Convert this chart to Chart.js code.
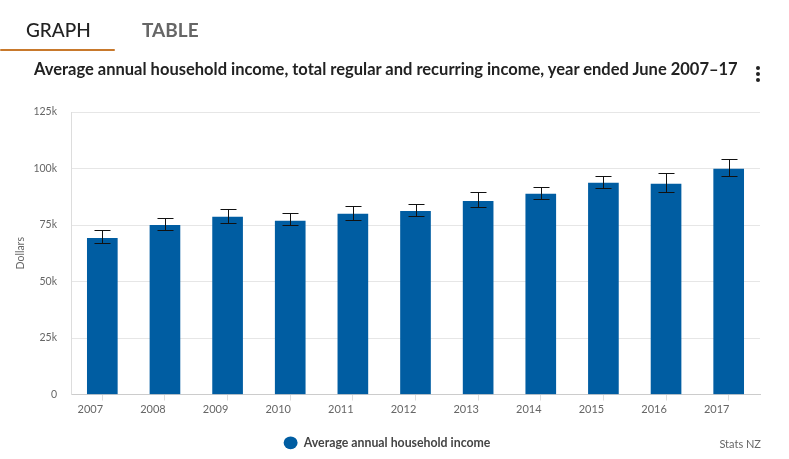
<!DOCTYPE html>
<html>
<head>
<meta charset="utf-8">
<script src="https://cdn.jsdelivr.net/npm/chart.js@4"></script>
<style>
  html, body { margin: 0; padding: 0; background: #fff; overflow: hidden; }
  body { width: 789px; height: 459px; position: relative; font-family: Lato, sans-serif; }
  #wrap { position: absolute; left: 0; top: 0; width: 789px; height: 459px; }
  .tab { position: absolute; top: 18px; font-size: 19px; font-weight: 500; line-height: 24px; }
  #tabGraph { left: 26px; color: #222; }
  #tabTable { left: 142px; color: #666; font-weight: 700; }
  #tabLine { position: absolute; left: 0; top: 49px; width: 115px; height: 2px; background: #c8792c; border-radius: 1px; }
  #title { position: absolute; left: 34px; top: 59px; font-size: 16.5px; font-weight: 700; color: #222; line-height: 20px; white-space: nowrap; }
  .dot { position: absolute; left: 756px; width: 4px; height: 4px; border-radius: 50%; background: #222; }
  #source { position: absolute; right: 28px; top: 437px; font-size: 11px; color: #666; line-height: 14px; }
</style>
</head>
<body>
<div id="wrap"><canvas id="chart" width="789" height="459"></canvas></div>
<div class="tab" id="tabGraph">GRAPH</div>
<div class="tab" id="tabTable">TABLE</div>
<div id="tabLine"></div>
<div id="title">Average annual household income, total regular and recurring income, year ended June 2007–17</div>
<div class="dot" style="top:66px"></div>
<div class="dot" style="top:72px"></div>
<div class="dot" style="top:78px"></div>
<div id="source">Stats NZ</div>
<script>
const years = ["2007", "2008", "2009", "2010", "2011", "2012", "2013", "2014", "2015", "2016", "2017"];
const incomeValues = [69100, 74900, 78500, 76700, 79800, 81100, 85500, 88700, 93500, 93100, 99700];
const errorLow = [67200, 72600, 76100, 74800, 77000, 79200, 82800, 86300, 91200, 89400, 96500];
const errorHigh = [72600, 78300, 81900, 80100, 83600, 84100, 89400, 91600, 96900, 97800, 104000];
const yTickLabels = ["0", "25k", "50k", "75k", "100k", "125k"];

// 오차 막대는 차트 스케일 기준으로 직접 그린다
const errorBarPlugin = {
    id: "errorBarPlugin",
    afterDatasetsDraw(chart) {
        const { ctx, scales } = chart;
        ctx.save();
        ctx.strokeStyle = "#111";
        ctx.lineWidth = 1;
        years.forEach((year, i) => {
            const x = Math.round(scales.x.getPixelForValue(i)) + 0.5;
            const top = Math.round(scales.y.getPixelForValue(errorHigh[i])) + 0.5;
            const bottom = Math.round(scales.y.getPixelForValue(errorLow[i])) + 0.5;
            ctx.beginPath();
            ctx.moveTo(x, top);
            ctx.lineTo(x, bottom);
            ctx.moveTo(x - 8, top);
            ctx.lineTo(x + 8, top);
            ctx.moveTo(x - 8, bottom);
            ctx.lineTo(x + 8, bottom);
            ctx.stroke();
        });
        ctx.restore();
    }
};

new Chart(document.getElementById("chart").getContext("2d"), {
    type: "bar",
    data: {
        labels: years,
        datasets: [{
            label: "Average annual household income",
            data: incomeValues,
            backgroundColor: "#005da2",
            borderWidth: 0,
            barThickness: 30
        }]
    },
    options: {
        responsive: false,
        animation: false,
        devicePixelRatio: 1,
        layout: { padding: { left: 14, right: 29, top: 112, bottom: 0 } },
        plugins: {
            tooltip: { enabled: false },
            legend: {
                position: "bottom",
                labels: {
                    usePointStyle: true,
                    pointStyle: "circle",
                    pointStyleWidth: 14,
                    boxHeight: 9,
                    padding: 14,
                    color: "#444",
                    font: { family: "Lato", size: 12.3, weight: "bold" }
                }
            }
        },
        scales: {
            x: {
                afterFit(scale) { scale.height += 5; },
                grid: { offset: false, drawOnChartArea: false, drawTicks: true, tickLength: 6, color: "#ddd" },
                border: { color: "#ccc" },
                ticks: { color: "#666", font: { family: "Lato", size: 11 }, labelOffset: -12, maxRotation: 0, padding: 2 }
            },
            y: {
                min: 0,
                max: 125000,
                afterFit(scale) { scale.width = 57; },
                grid: { color: "#e6e6e6", drawTicks: false },
                border: { color: "#ddd" },
                title: { display: true, text: "Dollars", color: "#666", font: { family: "Lato", size: 10.5 }, padding: 0 },
                ticks: {
                    stepSize: 25000,
                    padding: 14,
                    color: "#666",
                    font: { family: "Lato", size: 10.5 },
                    callback: (value) => yTickLabels[value / 25000]
                }
            }
        }
    },
    plugins: [errorBarPlugin]
});
</script>
</body>
</html>
